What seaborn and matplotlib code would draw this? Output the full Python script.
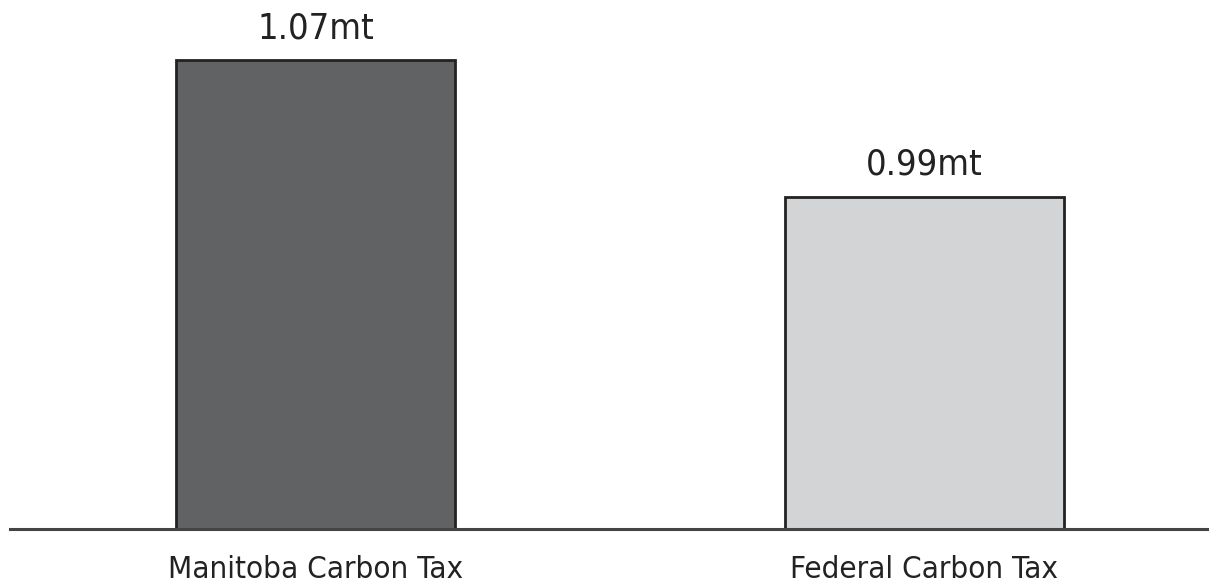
import matplotlib
matplotlib.use("Agg")
import matplotlib.pyplot as plt
import seaborn as sns
import pandas as pd

categories = ["Manitoba Carbon Tax", "Federal Carbon Tax"]
values = [1.07, 0.99]
value_labels = ["1.07mt", "0.99mt"]
colors = ["#616264", "#d3d4d6"]

sns.set_theme(style="white")
plt.rcParams['font.family'] = ['DejaVu Sans']

df = pd.DataFrame({"cat": categories, "val": values})

fig = plt.figure(figsize=(12.09, 5.87), dpi=100)
ax = fig.add_axes([10/1209, 58/587, 1199/1209, 529/587])
sns.barplot(data=df, x="cat", y="val", hue="cat", palette=colors, legend=False,
            width=0.4585, edgecolor="#222222", linewidth=2, ax=ax, saturation=1)

ymin = 0.796
ax.set_ylim(ymin, ymin + 529/1711)
ax.set_xlim(-0.502, 1.468)

for i, (v, lab) in enumerate(zip(values, value_labels)):
    ax.text(i, v + 0.0129, lab, ha="center", va="baseline", fontsize=26,
            color="#222222", fontstretch="condensed")

for s in ["top", "right", "left"]:
    ax.spines[s].set_visible(False)
ax.spines["bottom"].set_color("#444444")
ax.spines["bottom"].set_linewidth(2.2)
ax.set_yticks([])
ax.set_xlabel("")
ax.set_ylabel("")
ax.tick_params(axis="x", length=0, pad=19, labelsize=22.5, labelcolor="#222222")
for t in ax.get_xticklabels():
    t.set_fontstretch("condensed")

fig.savefig("out.png", dpi=100)
